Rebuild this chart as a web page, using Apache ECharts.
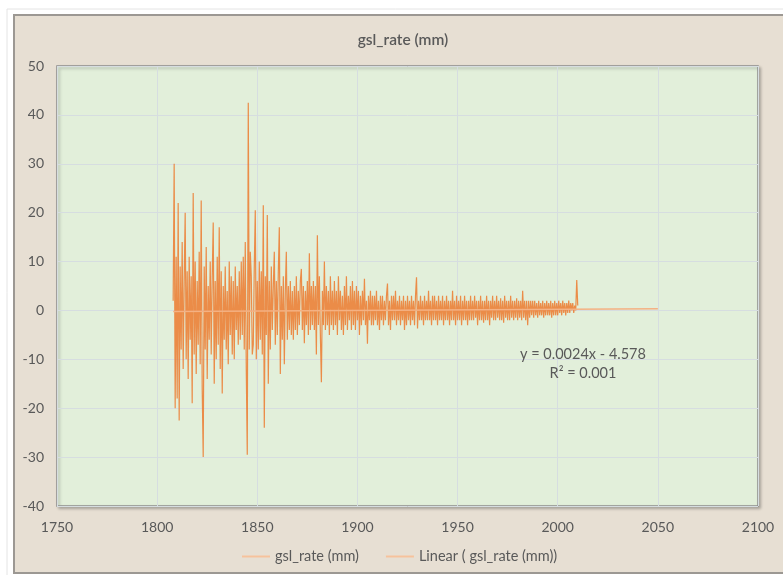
<!DOCTYPE html>
<html>
<head>
<meta charset="utf-8">
<style>
  html, body { margin: 0; padding: 0; background: #ffffff; }
  #chart { width: 783px; height: 575px; }
</style>
<script src="https://cdn.jsdelivr.net/npm/echarts@6/dist/echarts.min.js"></script>
</head>
<body>
<div id="chart"></div>
<script>
// ---- data ----
const chartTitle = 'gsl_rate (mm)';
const seriesName = 'gsl_rate (mm)';
const trendName = 'Linear ( gsl_rate (mm))';
const firstYear = 1808;
const stepYears = 0.5;
// one value every half year, 1808.0 ... 2010.0
const rateValues = [
  // 1808 - 1817.5
  2, 30, -20, 11, -18, 22, -22.5, 9, -8, 14, -12, 6, 20, -10, 8, -14, 11, -6, 7, -19,
  // 1818 - 1827.5
  24, -9, 10, -13, 6, -7, 12, -11, 22.5, -16, -30, 9, -8, 13, -14, 5, -6, 10, -9, 7,
  // 1828 - 1837.5
  18, -15, 6, -10, 11, -7, 17, -12, 8, -17, 5, -6, 9, -8, 4, -11, 10, -5, 7, -9,
  // 1838 - 1847.5
  6, -10, 9, -4, 5, -7, 8, -6, 10, -5, 11, -8, 14, -12, -29.5, 42.5, -8, 12, 7, -9,
  // 1848 - 1857.5
  -7, 9, 20.5, -10, 6, -8, 10, -6, 8, -9, 21.5, -24, 7, -5, 19.5, -15, 6, -8, 9, -4,
  // 1858 - 1867.5
  5, 12, -7, 6, -5, 8, 17, -13, 5, -6, 7, -11, 4, 12, -6, 5, -4, 6, -5, 4,
  // 1868 - 1877.5
  -6, 5, -4, 7, -5, 4, -3, 6, 8.5, -4, 5, -6.7, 4, -3, 6, -5, 11.7, -4, 5, -3,
  // 1878 - 1887.5
  6, -4, 5, -9, 15.4, -3, 7, -5, -14.7, 4, -3, 10, -4, 5, -3, 4, -5, 7, -3, 4,
  // 1888 - 1897.5
  -4, 6, -3, 4, -5, 7, -2, 4, -4, 3, -5, 5, -3, 7, -4, 3, -2, 5, -4, 6,
  // 1898 - 1907.5
  -3, 4, -4, 5, -2, 4, -5, 3, -3, 4, -2, 6.5, -3, 2, -6.8, 3, -2, 4, -3, 3,
  // 1908 - 1917.5
  -3, 3, -2, 4, -3, 2, -4, 3, -2, 3, -3, 2, -2, 3, 5.5, -3, 2, -4, 3, -2,
  // 1918 - 1927.5
  3, -2, 4, -3, 2, -2, 3, -3, 2, -2, 3, -4, 2, -3, 3, -2, 2, -3, 3, -2,
  // 1928 - 1937.5
  2, -3, 3, 6.8, -3.7, 2, -2, 3, -2, 2, -3, 3, -2, 2, -2, 4, -2, 2, -3, 3,
  // 1938 - 1947.5
  -2, 3, -2, 2, -3, 3, -2, 2, -2, 3, -3, 2, -2, 3, -2, 2, -3, 2, -2, 4,
  // 1948 - 1957.5
  -2, 2, -3, 3, -2, 2, -2, 3, -3, 2, -2, 3, -2, 2, -3, 2, -2, 3, -2, 2,
  // 1958 - 1967.5
  -2, 3, -1.5, 2, -3, 2, -2, 3, -2, 2, -2.5, 2, -2, 3, -2, 2, -3, 2, -1.5, 3,
  // 1968 - 1977.5
  -2, 2, -2, 3, -1.5, 2, -2, 2.5, -2, 2, -2.5, 3, -1.5, 2, -2, 2, -2, 3, -1.5, 2,
  // 1978 - 1987.5
  -2, 2, -1.5, 2.5, -2, 2, -1.5, 2, -2, 4, -1.5, 2, -2, 2, -3, 2, -1.5, 2, -1, 2,
  // 1988 - 1997.5
  -1.5, 2, -1, 1.5, -1.5, 2, -1, 1.5, -1, 2, -1.5, 1.5, -1, 2, -1, 1.5, -1, 2, -1.5, 1.5,
  // 1998 - 2010
  -1, 2, -1, 1.5, -1, 2, -0.5, 1.5, -1, 2, -0.5, 1.5, -1, 1.5, -0.5, 2, -0.5, 1.5, 0, 1.5, -0.5, 1, 0, 6.2, 1
];
// trendline as printed on the chart: y = 0.0024x - 4.578, R² = 0.001
const trendSlope = 0.0024;
const trendIntercept = -4.578;
const trendR2 = '0.001';
const trendYears = [1808, 2050];
const xTicks = { min: 1750, max: 2100, interval: 50 };
const yTicks = { min: -40, max: 50, interval: 10 };

// ---- build ----
const rateData = rateValues.map((v, i) => [firstYear + i * stepYears, v]);
const trendData = trendYears.map(x => [x, trendSlope * x + trendIntercept]);
const eqText = 'y = ' + trendSlope + 'x - ' + Math.abs(trendIntercept);
const r2Text = 'R² = ' + trendR2;

const FONT = 'Lato, "Open Sans", sans-serif';
const TXT = '#595959';

const chart = echarts.init(document.getElementById('chart'), null, { renderer: 'canvas' });
chart.setOption({
  animation: false,
  backgroundColor: '#ffffff',
  textStyle: { fontFamily: FONT },
  graphic: [
    { type: 'rect', z: -10, silent: true,
      shape: { x: 7, y: 9, width: 800, height: 580 },
      style: { fill: '#ffffff', stroke: '#e4e4e4', lineWidth: 1 } },
    { type: 'rect', z: -9, silent: true,
      shape: { x: 14, y: 15, width: 790, height: 558 },
      style: { fill: '#e7dfd3', stroke: '#9c9893', lineWidth: 2 } },
    { type: 'text', z: 10, silent: true, x: 403, y: 40,
      style: { text: chartTitle, fill: TXT, font: '600 15.5px ' + FONT,
               textAlign: 'center', textVerticalAlign: 'middle' } },
    { type: 'text', z: 10, silent: true, x: 583, y: 354,
      style: { text: eqText, fill: TXT, font: '14.5px ' + FONT,
               textAlign: 'center', textVerticalAlign: 'middle' } },
    { type: 'text', z: 10, silent: true, x: 583, y: 373,
      style: { text: r2Text, fill: TXT, font: '14.5px ' + FONT,
               textAlign: 'center', textVerticalAlign: 'middle' } }
  ],
  grid: {
    left: 57, top: 66, right: 25, bottom: 69,
    show: true,
    backgroundColor: '#e2efda',
    borderColor: '#8d8d8d',
    borderWidth: 1.5,
    shadowColor: 'rgba(0,0,0,0.25)',
    shadowBlur: 3,
    shadowOffsetX: 2,
    shadowOffsetY: 2
  },
  legend: {
    left: 237, top: 544,
    icon: 'rect',
    itemWidth: 28, itemHeight: 2, itemGap: 27,
    textStyle: { color: TXT, fontSize: 14.5, fontFamily: FONT },
    data: [
      { name: seriesName, itemStyle: { color: '#f6c29c' } },
      { name: trendName, itemStyle: { color: '#f6c29c' } }
    ]
  },
  xAxis: {
    type: 'value',
    min: xTicks.min, max: xTicks.max, interval: xTicks.interval,
    axisLine: { show: false, onZero: false },
    axisTick: { show: false },
    axisLabel: { color: TXT, fontSize: 14, margin: 14, fontFamily: FONT,
                 formatter: v => String(v) },
    splitLine: { show: true, lineStyle: { color: '#d6dde0', width: 1 } }
  },
  yAxis: {
    type: 'value',
    min: yTicks.min, max: yTicks.max, interval: yTicks.interval,
    axisLine: { show: false },
    axisTick: { show: false },
    axisLabel: { color: TXT, fontSize: 14, margin: 13, fontFamily: FONT,
                 formatter: v => String(v) },
    splitLine: { show: true, lineStyle: { color: '#d6dde0', width: 1 } }
  },
  series: [
    {
      name: seriesName,
      type: 'line',
      data: rateData,
      symbol: 'none',
      showSymbol: false,
      color: '#ee8a47',
      lineStyle: { color: '#ec7a2e', width: 1.2, opacity: 0.85 },
      z: 3
    },
    {
      name: trendName,
      type: 'line',
      data: trendData,
      symbol: 'none',
      showSymbol: false,
      color: '#f4b183',
      lineStyle: { color: '#f4b183', width: 1.5 },
      z: 4
    }
  ]
});
</script>
</body>
</html>
